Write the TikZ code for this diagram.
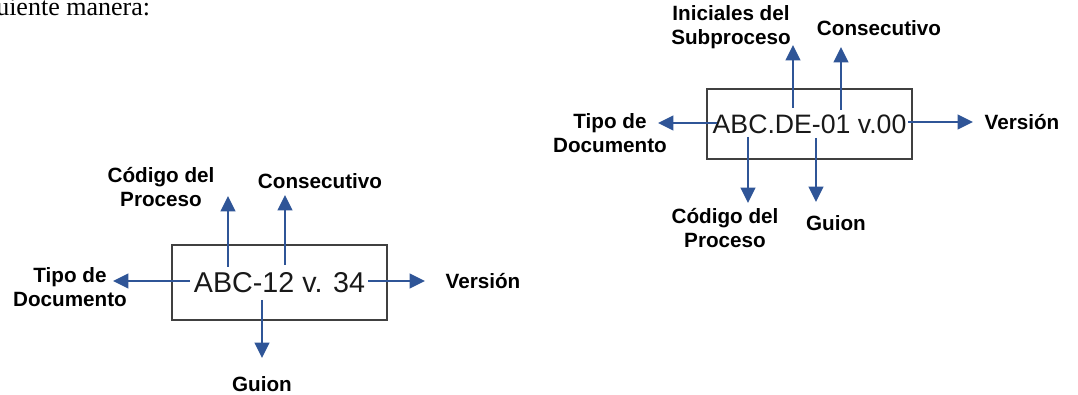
\documentclass[tikz,border=0pt]{standalone}
\usepackage{fontspec}
\setmainfont{Liberation Serif}
\setsansfont{Liberation Sans}
\usepackage{xcolor}
\usepackage{tikz}
\usetikzlibrary{arrows.meta}
\definecolor{cdblue}{HTML}{2F5597}
\definecolor{cdgray}{HTML}{404040}
\tikzset{
  cdarrow/.style={line width=1.7pt, draw=cdblue, -{Triangle[length=11.5pt,width=11pt]}},
  cdbox/.style={draw=cdgray, line width=0.9pt, inner sep=0pt, text=black!90, font=\sffamily\fontsize{20}{24}\selectfont},
  cdlabel/.style={align=center, inner sep=0pt, font=\sffamily\bfseries\fontsize{15.5}{18}\selectfont},
  cdtext/.style={inner sep=0pt, font=\fontsize{19.5}{23}\selectfont},
}

\begin{document}
\begin{tikzpicture}[x=0.75pt,y=-0.75pt]
\useasboundingbox (0,0) rectangle (1078,395);
\node[cdtext, anchor=base west] (intro) at (-4,16) {uiente manera:};
% first code
\node[cdbox, minimum width=161.25pt, minimum height=56.25pt, font=\sffamily\fontsize{21.5}{24}\selectfont] (boxA) at (279.5,282.5) {ABC-12 v. 34};
\coordinate (tipoAs) at (190,281);  \coordinate (tipoAe) at (113,281);
\coordinate (codAs) at (228,267);   \coordinate (codAe) at (228,196);
\coordinate (consAs) at (285,265);  \coordinate (consAe) at (285,195);
\coordinate (guionAs) at (262,300); \coordinate (guionAe) at (262,358);
\coordinate (verAs) at (368,281);   \coordinate (verAe) at (425,281);
\draw[cdarrow] (tipoAs) -- (tipoAe);
\draw[cdarrow] (codAs) -- (codAe);
\draw[cdarrow] (consAs) -- (consAe);
\draw[cdarrow] (guionAs) -- (guionAe);
\draw[cdarrow] (verAs) -- (verAe);
\node[cdlabel] (codA) at (161,187) {Código del\\Proceso};
\node[cdlabel] (consA) at (320,181) {Consecutivo};
\node[cdlabel] (tipoA) at (70,287) {Tipo de\\Documento};
\node[cdlabel] (verA) at (483,281) {Versión};
\node[cdlabel] (guionA) at (262,384) {Guion};
% second code
\node[cdbox, minimum width=153.75pt, minimum height=52.5pt] (boxB) at (809.5,124) {ABC.DE-01 v.00};
\coordinate (tipoBs) at (717,123);  \coordinate (tipoBe) at (658,123);
\coordinate (iniBs) at (793,108);   \coordinate (iniBe) at (793,45);
\coordinate (consBs) at (841,110);  \coordinate (consBe) at (841,47);
\coordinate (codBs) at (748,137);   \coordinate (codBe) at (748,203);
\coordinate (guionBs) at (816,138); \coordinate (guionBe) at (816,202);
\coordinate (verBs) at (908,122);   \coordinate (verBe) at (973,122);
\draw[cdarrow] (tipoBs) -- (tipoBe);
\draw[cdarrow] (iniBs) -- (iniBe);
\draw[cdarrow] (consBs) -- (consBe);
\draw[cdarrow] (codBs) -- (codBe);
\draw[cdarrow] (guionBs) -- (guionBe);
\draw[cdarrow] (verBs) -- (verBe);
\node[cdlabel] (iniB) at (731,27) {Iniciales del\\Subproceso};
\node[cdlabel] (consB) at (879,28) {Consecutivo};
\node[cdlabel] (tipoB) at (610,133) {Tipo de\\Documento};
\node[cdlabel] (verB) at (1022,122) {Versión};
\node[cdlabel] (codB) at (725,228) {Código del\\Proceso};
\node[cdlabel] (guionB) at (836,223) {Guion};
\end{tikzpicture}
\end{document}
